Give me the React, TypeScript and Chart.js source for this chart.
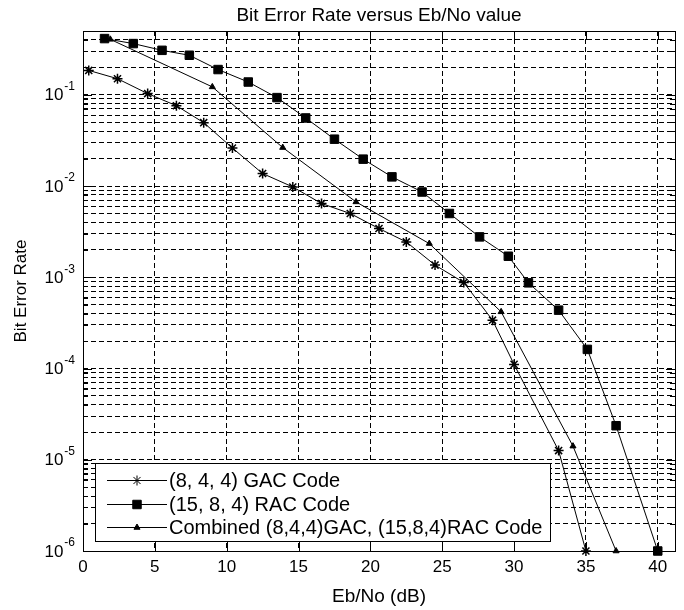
import React, { useEffect, useRef } from 'react';
import { Chart, registerables } from 'chart.js';
import { drawPoint } from 'chart.js/helpers';

Chart.register(...registerables);

// ---- data ----
const gacX = [0.4, 2.4, 4.5, 6.5, 8.4, 10.4, 12.5, 14.6, 16.6, 18.6, 20.6, 22.5, 24.5, 26.5, 28.5, 30, 33.1, 35];
const gacBer = [0.185, 0.15, 0.103, 0.0759, 0.0495, 0.0261, 0.0137, 0.00977, 0.00643, 0.005, 0.00342, 0.00244, 0.00136, 0.000877, 0.000339, 0.000111, 1.26e-5, 1e-6];

const racX = [1.5, 3.5, 5.5, 7.4, 9.4, 11.5, 13.5, 15.5, 17.5, 19.5, 21.5, 23.6, 25.5, 27.6, 29.6, 31, 33.1, 35.1, 37.1, 40];
const racBer = [0.413, 0.364, 0.307, 0.271, 0.189, 0.138, 0.0931, 0.0557, 0.0326, 0.0197, 0.0126, 0.0086, 0.005, 0.00277, 0.0017, 0.000869, 0.000436, 0.000162, 2.36e-5, 1e-6];

const combX = [1.9, 9, 13.9, 19, 24.1, 29.1, 34.1, 37.1];
const combBer = [0.405, 0.122, 0.0264, 0.0067, 0.00234, 0.000418, 1.41e-5, 1e-6];

const seriesLabels = ['(8, 4, 4) GAC Code', '(15, 8, 4) RAC Code', 'Combined (8,4,4)GAC, (15,8,4)RAC Code'];

const xTicks = [0, 5, 10, 15, 20, 25, 30, 35, 40];
const xMin = 0;
const xMax = 41.2;
const yDecades = [-6, -5, -4, -3, -2, -1];
const yMinorMultipliers = [2, 3, 4, 5, 6, 7, 8, 9];
const yMin = 1e-6;
const yMax = 0.5;

const titleText = 'Bit Error Rate versus Eb/No value';
const xTitle = 'Eb/No (dB)';
const yTitle = 'Bit Error Rate';

const FONT = "'Liberation Sans', Arial, Helvetica, sans-serif";

const yGridValues: number[] = [];
yDecades.forEach((e) => {
  yGridValues.push(Math.pow(10, e));
  yMinorMultipliers.forEach((m) => {
    const v = m * Math.pow(10, e);
    if (v < yMax) yGridValues.push(v);
  });
});
const yMajorValues = yDecades.map((e) => Math.pow(10, e));

const toPts = (xs: number[], ys: number[]) => xs.map((x, i) => ({ x, y: ys[i] }));

const matlabPlugin = {
  id: 'matlabDecor',
  afterDatasetsDraw(chart: any) {
    const { ctx, chartArea, scales } = chart;
    const { left, right, top, bottom } = chartArea;
    const xs = scales.x;
    const ys = scales.y;
    ctx.save();
    ctx.strokeStyle = '#000';
    ctx.fillStyle = '#000';
    ctx.lineWidth = 1;
    ctx.setLineDash([]);
    // tick marks (inside, both sides)
    ctx.beginPath();
    xTicks.forEach((v) => {
      const px = Math.round(xs.getPixelForValue(v)) + 0.5;
      ctx.moveTo(px, bottom);
      ctx.lineTo(px, bottom - 9);
      ctx.moveTo(px, top);
      ctx.lineTo(px, top + 9);
    });
    yGridValues.forEach((v) => {
      const major = yMajorValues.some((m) => Math.abs(m - v) / m < 1e-9);
      const len = major ? 9 : 5;
      const py = Math.round(ys.getPixelForValue(v)) + 0.5;
      ctx.moveTo(left, py);
      ctx.lineTo(left + len, py);
      ctx.moveTo(right, py);
      ctx.lineTo(right - len, py);
    });
    ctx.stroke();
    // box
    ctx.strokeRect(Math.round(left) + 0.5, Math.round(top) + 0.5, Math.round(right - left), Math.round(bottom - top));

    // y tick labels with superscripts
    yMajorValues.forEach((v, i) => {
      const py = ys.getPixelForValue(v);
      const exp = '-' + String(-yDecades[i]);
      ctx.font = `12px ${FONT}`;
      ctx.textAlign = 'right';
      ctx.textBaseline = 'middle';
      const expW = ctx.measureText(exp).width;
      const expRight = left - 8;
      ctx.fillText(exp, expRight, py - 8);
      ctx.font = `17px ${FONT}`;
      ctx.fillText('10', expRight - expW - 1, py + 1);
    });

    // title
    ctx.font = `19px ${FONT}`;
    ctx.textAlign = 'center';
    ctx.textBaseline = 'middle';
    ctx.fillText(titleText, (left + right) / 2, 16);
    // x title
    ctx.fillText(xTitle, (left + right) / 2, 597);
    // y title
    ctx.save();
    ctx.translate(21, (top + bottom) / 2);
    ctx.rotate(-Math.PI / 2);
    ctx.font = `17px ${FONT}`;
    ctx.fillText(yTitle, 0, 0);
    ctx.restore();

    // legend
    const lx = left + 12;
    const lw = 455;
    const lh = 78;
    const lb = bottom - 10;
    const lt = lb - lh;
    ctx.fillStyle = '#fff';
    ctx.fillRect(Math.round(lx) + 0.5, Math.round(lt) + 0.5, lw, lh);
    ctx.strokeStyle = '#000';
    ctx.strokeRect(Math.round(lx) + 0.5, Math.round(lt) + 0.5, lw, lh);
    chart.data.datasets.forEach((ds: any, i: number) => {
      const ry = Math.round(lt + 17 + i * 23.5) + 0.5;
      ctx.strokeStyle = '#000';
      ctx.fillStyle = '#000';
      ctx.lineWidth = 1;
      ctx.beginPath();
      ctx.moveTo(lx + 12, ry);
      ctx.lineTo(lx + 72, ry);
      ctx.stroke();
      drawPoint(ctx, {
        pointStyle: ds.pointStyle,
        radius: ds.pointRadius,
        rotation: 0,
        borderWidth: ds.pointBorderWidth,
      } as any, lx + 42, ry);
      ctx.font = `20px ${FONT}`;
      ctx.textAlign = 'left';
      ctx.textBaseline = 'middle';
      ctx.fillStyle = '#000';
      ctx.fillText(ds.label, lx + 74, ry + 1);
    });
    ctx.restore();
  },
};

export default function App() {
  const ref = useRef<HTMLCanvasElement>(null);
  useEffect(() => {
    if (!ref.current) return;
    const gridCommon = { color: '#000', lineWidth: 1, drawTicks: false };
    const chart = new Chart(ref.current, {
      type: 'line',
      data: {
        datasets: [
          {
            label: seriesLabels[0],
            data: toPts(gacX, gacBer),
            borderColor: '#000',
            backgroundColor: '#000',
            borderWidth: 1,
            pointStyle: 'star',
            pointRadius: 5,
            pointBorderWidth: 1.5,
            pointBorderColor: '#000',
            pointBackgroundColor: '#000',
            clip: false,
          },
          {
            label: seriesLabels[1],
            data: toPts(racX, racBer),
            borderColor: '#000',
            backgroundColor: '#000',
            borderWidth: 1,
            pointStyle: 'rect',
            pointRadius: 6,
            pointBorderWidth: 1,
            pointBorderColor: '#000',
            pointBackgroundColor: '#000',
            clip: false,
          },
          {
            label: seriesLabels[2],
            data: toPts(combX, combBer),
            borderColor: '#000',
            backgroundColor: '#000',
            borderWidth: 1,
            pointStyle: 'triangle',
            pointRadius: 3.5,
            pointBorderWidth: 1,
            pointBorderColor: '#000',
            pointBackgroundColor: '#000',
            clip: false,
          },
        ] as any,
      },
      options: {
        animation: false,
        responsive: false,
        devicePixelRatio: 1,
        layout: { padding: { left: 0, right: 9, top: 31, bottom: 0 } },
        plugins: { legend: { display: false }, tooltip: { enabled: false }, title: { display: false } },
        elements: { line: { tension: 0 } },
        scales: {
          x: {
            type: 'linear',
            min: xMin,
            max: xMax,
            afterBuildTicks: (s: any) => {
              s.ticks = xTicks.map((v) => ({ value: v }));
            },
            afterFit: (s: any) => {
              s.height = 59;
            },
            ticks: {
              color: '#000',
              font: { size: 17, family: FONT },
              padding: 6,
              maxRotation: 0,
              autoSkip: false,
            },
            grid: gridCommon,
            border: { display: false, dash: [5, 3] },
          },
          y: {
            type: 'logarithmic',
            min: yMin,
            max: yMax,
            afterBuildTicks: (s: any) => {
              s.ticks = yGridValues.map((v) => ({ value: v }));
            },
            afterFit: (s: any) => {
              s.width = 83;
            },
            ticks: { display: false },
            grid: gridCommon,
            border: { display: false, dash: [5, 3] },
          },
        },
      } as any,
      plugins: [matlabPlugin],
    });
    return () => chart.destroy();
  }, []);
  return (
    <div style={{ position: 'fixed', left: 0, top: 0, width: 684, height: 610, background: '#fff' }}>
      <canvas ref={ref} width={684} height={610} style={{ display: 'block', width: 684, height: 610 }} />
    </div>
  );
}
